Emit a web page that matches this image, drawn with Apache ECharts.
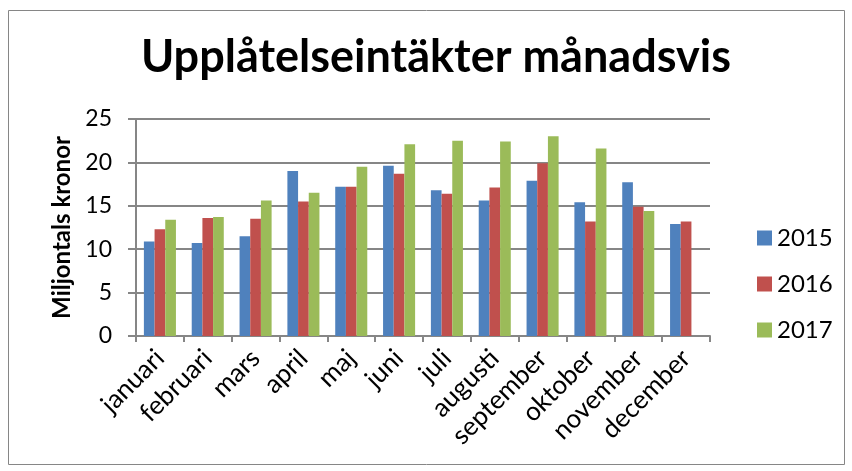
<!DOCTYPE html>
<html><head><meta charset="utf-8">
<script src="https://cdn.jsdelivr.net/npm/echarts@6/dist/echarts.min.js"></script>
<style>html,body{margin:0;padding:0;background:#fff}#c{width:852px;height:471px}</style>
</head><body><div id="c"></div>
<script>
const categories = ['januari','februari','mars','april','maj','juni','juli','augusti','september','oktober','november','december'];
const s2015 = [10.9, 10.7, 11.5, 19.0, 17.2, 19.6, 16.8, 15.6, 17.9, 15.4, 17.7, 12.9];
const s2016 = [12.3, 13.6, 13.5, 15.5, 17.2, 18.7, 16.4, 17.1, 19.9, 13.2, 14.9, 13.2];
const s2017 = [13.4, 13.7, 15.6, 16.5, 19.5, 22.1, 22.5, 22.4, 23.0, 21.6, 14.4, null];
const yTicks = [0, 5, 10, 15, 20, 25];
const seriesNames = ['2015','2016','2017'];
const colors = ['#4F81BD','#C0504D','#9BBB59'];
const font = 'Lato, Open Sans, sans-serif';
const chart = echarts.init(document.getElementById('c'));
const data = [s2015, s2016, s2017];
chart.setOption({
  animation: false,
  graphic: [{type:'rect', shape:{x:8.5,y:10.5,width:836,height:454}, style:{fill:'none', stroke:'#868686', lineWidth:1}}],
  title: {text:'Upplåtelseintäkter månadsvis', left:431, top:30, textAlign:'center',
    textStyle:{fontFamily:font, fontWeight:'bold', fontSize:45, color:'#000'}},
  legend: {orient:'vertical', left:752, top:221, itemGap:22, itemWidth:15, itemHeight:15,
    icon:'rect', data: seriesNames,
    textStyle:{fontFamily:font, fontSize:24, color:'#000'}},
  grid: {left:136, right:142, top:119, bottom:135},
  xAxis: {type:'category', data:categories,
    axisLine:{lineStyle:{color:'#868686', width:2}},
    axisTick:{show:true, length:6, lineStyle:{color:'#868686', width:2}},
    axisLabel:{rotate:45, fontFamily:font, fontSize:26, color:'#000', margin:18}},
  yAxis: {type:'value', min:0, max:25, interval:5,
    name:'Miljontals kronor', nameLocation:'middle', nameGap:61, nameRotate:90,
    nameTextStyle:{fontFamily:font, fontWeight:'bold', fontSize:24, color:'#000'},
    axisLine:{show:true, lineStyle:{color:'#868686', width:2}},
    axisTick:{show:true, length:8, lineStyle:{color:'#868686', width:2}},
    axisLabel:{fontFamily:font, fontSize:23, color:'#000', margin:24,
      formatter: v => yTicks.includes(v) ? String(v) : ''},
    splitLine:{lineStyle:{color:'#868686', width:2}}},
  series: data.map((d,i)=>({name:seriesNames[i], type:'bar', data:d, barGap:'0%', barCategoryGap:'33%',
    itemStyle:{color:colors[i]}}))
});
</script></body></html>
